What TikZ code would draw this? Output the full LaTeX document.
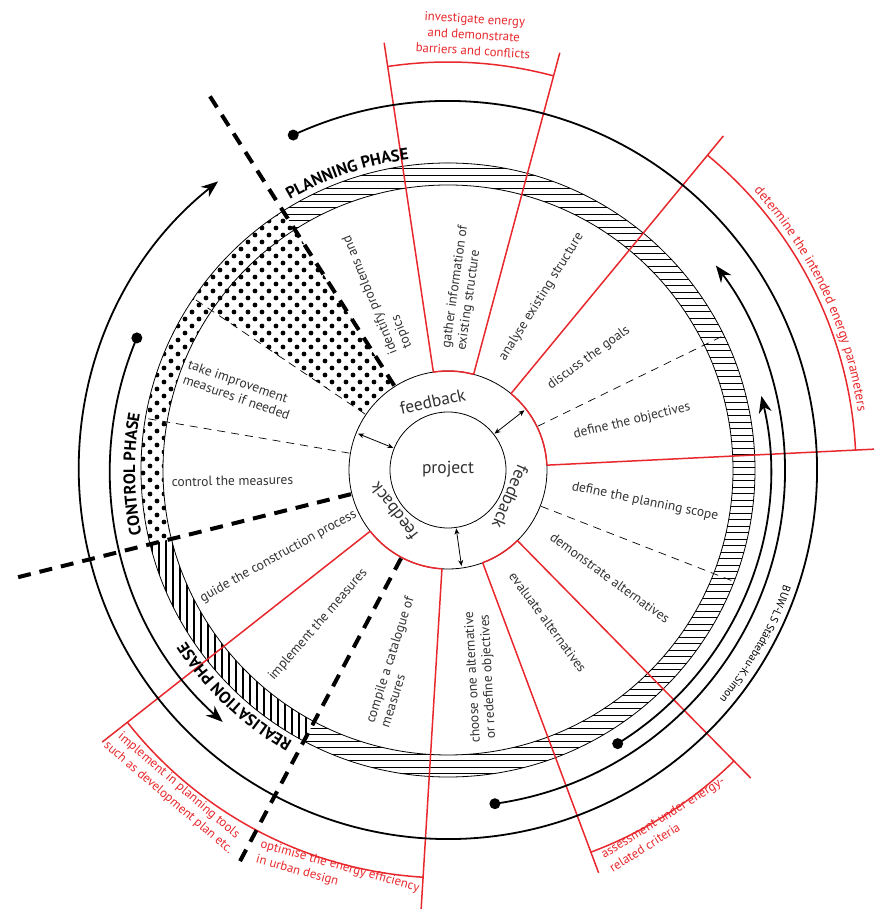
\documentclass[tikz,border=0pt]{standalone}
\usepackage{fontspec}
\setmainfont{PT Sans}
\usetikzlibrary{arrows.meta,decorations.text}
\definecolor{bwred}{RGB}{232,40,44}
\definecolor{txtgray}{RGB}{50,50,50}
\newcommand\segfont{\fontsize{13.5}{15.5}\selectfont}
\newcommand\phasefont{\fontsize{16.5}{18}\selectfont\bfseries}
\newcommand\buwfont{\fontsize{11}{13}\selectfont}

\begin{document}
\begin{tikzpicture}[
        x=1pt, y=1pt,
        seg/.style={font=\segfont, text=txtgray, inner sep=0pt, align=left},
        redlbl/.style={font=\fontsize{12.8}{16}\selectfont, text=bwred, inner sep=0pt},
        fbk/.style={font=\fontsize{17.5}{20}\selectfont, text=txtgray, inner sep=0pt},
        ringline/.style={line width=0.8pt},
        redline/.style={draw=bwred, line width=1.5pt},
        phasedash/.style={line width=4pt, dash pattern=on 13pt off 9pt},
        thindash/.style={line width=0.7pt, dash pattern=on 8pt off 6pt},
        cyclearc/.style={line width=1.8pt, -{Stealth[length=17pt,width=13pt]}},
        fbarrow/.style={line width=0.8pt, {Stealth[length=6pt,width=5pt]}-{Stealth[length=6pt,width=5pt]}},
        arctext/.style={decorate, decoration={text along path, text align=center, text={#1}}},
        redarctext/.style={decorate, decoration={text along path, text align=center, text color=bwred, text={#1}}}
    ]
    \useasboundingbox (-448,-439) rectangle (426,470);

    % hatched ring, planning side
    \begin{scope}
        \clip (-118:285) arc[start angle=-118, end angle=122.5, radius=285]
            -- (122.5:307) arc[start angle=122.5, end angle=-118, radius=307] -- cycle;
        \foreach \y in {-310,-303.5,...,310}
            \draw[line width=1pt] (-310,\y) -- (310,\y);
    \end{scope}

    % hatched ring, realisation side
    \begin{scope}
        \clip (194:285) arc[start angle=194, end angle=242, radius=285]
            -- (242:307) arc[start angle=242, end angle=194, radius=307] -- cycle;
        \foreach \x in {-310,-303,...,0}
            \draw[line width=1.2pt] (\x,-310) -- (\x,0);
    \end{scope}

    % dotted area, control side
    \begin{scope}
        \clip (122.5:99) -- (122.5:307) arc[start angle=122.5, end angle=194, radius=307]
            -- (194:285) arc[start angle=194, end angle=146, radius=285]
            -- (146:99) arc[start angle=146, end angle=122.5, radius=99] -- cycle;
        \foreach \i in {0,...,20}
            \foreach \j in {0,...,50}
                \fill ({-312+\i*14+mod(\j,2)*7}, {-80+\j*7}) circle[radius=2.4];
    \end{scope}

    \draw[ringline] (0,0) circle[radius=58] circle[radius=99] circle[radius=285] circle[radius=307];

    \foreach \ang in {26,-21.3,146,170.3}
        \draw[thindash] (\ang:100) -- (\ang:307);

    % energy related steps
    \foreach \ang/\len in {98.5/432,75/432,50.5/433,2.8/440,-45.5/432,-69.5/430,-93.5/440,218.2/440}
        \draw[redline] (\ang:99) -- (\ang:\len);
    \foreach \ang/\bng in {75/98.5,2.8/50.5,-69.5/-45.5,218.2/266.5} {
        \draw[redline] (\ang:408) arc[start angle=\ang, end angle=\bng, radius=408];
        \draw[redline] (\ang:99) arc[start angle=\ang, end angle=\bng, radius=99];
    }

    % phase borders
    \foreach \ang in {122.5,194,242}
        \draw[phasedash] (\ang:100) -- (\ang:451);

    % cycle arrows
    \draw[cyclearc] (114.8:369) arc[start angle=114.8, end angle=-231.45, radius=369];
    \draw[cyclearc] (157:338) arc[start angle=157, end angle=228.2, radius=338];
    \draw[cyclearc] (-82:337) arc[start angle=-82, end angle=37.35, radius=337];
    \draw[cyclearc] (-58.2:322) arc[start angle=-58.2, end angle=13.3, radius=322];
    \foreach \ang/\len in {114.8/369,157/338,-82/337,-58.2/322}
        \fill (\ang:\len) circle[radius=5.5];

    \foreach \ang in {158,38,-82}
        \draw[fbarrow] (\ang:59) -- (\ang:97);

    % centre
    \node[fbk] (project) at (0,1) {project};
    \node[fbk, rotate=12.6] (fbtop) at (102.6:70) {feedback};
    \node[fbk, rotate=-113.4] (fbright) at (-23.4:68) {feedback};
    \node[fbk, rotate=127.5] (fbleft) at (217.5:68) {feedback};

    % steps
    \node[seg, rotate=112] (identify) at (111.6:191.5) {identify problems and\\topics};
    \node[seg, rotate=82] (gather) at (85.3:182.6) {gather information of\\existing structure};
    \node[seg, rotate=58] (analyse) at (61.6:196.6) {analyse existing structure};
    \node[seg, rotate=36] (goals) at (38.5:180) {discuss the goals};
    \node[seg, rotate=13.5] (objectives) at (14.9:190.4) {define the objectives};
    \node[seg, rotate=-11.7] (scope) at (-9.2:199.6) {define the planning scope};
    \node[seg, rotate=-36] (demonstrate) at (-33.7:194.7) {demonstrate alternatives};
    \node[seg, rotate=-53.6] (evaluate) at (-56.7:182) {evaluate alternatives};
    \node[seg, align=center, rotate=93] (choose) at (-81:209.6) {choose one alternative\\or redefine objectives};
    \node[seg, rotate=72.4] (compile) at (255.1:198.7) {compile a catalogue of\\measures};
    \node[seg, rotate=49] (implement) at (230:202) {implement the measures};
    \node[seg, rotate=29] (guide) at (207:190.3) {guide the construction process};
    \node[seg, rotate=1] (control) at (182.9:215.8) {control the measures};
    \node[seg, rotate=-19.3] (improve) at (159:223.8) {take improvement\\measures if needed};

    % phases
    \path[arctext={|\phasefont|PLANNING PHASE}] (127:313) arc[start angle=127, end angle=90.5, radius=313];
    \path[arctext={|\phasefont|CONTROL PHASE}] (197:313) arc[start angle=197, end angle=164.6, radius=313];
    \path[arctext={|\phasefont|REALISATION PHASE}] (246:313) arc[start angle=246, end angle=207.4, radius=313];
    \path[arctext={|\buwfont|BUW-LS Städtebau-K.Simon}] (-14:355) arc[start angle=-14, end angle=-45, radius=355];

    % energy labels
    \node[redlbl, align=center, rotate=-3.4] (investigate) at (86.6:436) {investigate energy\\and demonstrate\\barriers and conflicts};
    \path[redarctext={|\segfont|determine the intended energy parameters}] (44:414) arc[start angle=44, end angle=6.5, radius=414];
    \node[redlbl, align=left, rotate=32] (assessment) at (219,-354) {assessment under energy-\\related criteria};
    \node[redlbl, align=center, rotate=-40.5] (tools) at (-274.5,-322) {implement in planning tools\\such as development plan etc.};
    \node[redlbl, align=left, rotate=-15.6] (optimise) at (-110.4,-404.2) {optimise the energy efficiency\\in urban design};
\end{tikzpicture}
\end{document}
